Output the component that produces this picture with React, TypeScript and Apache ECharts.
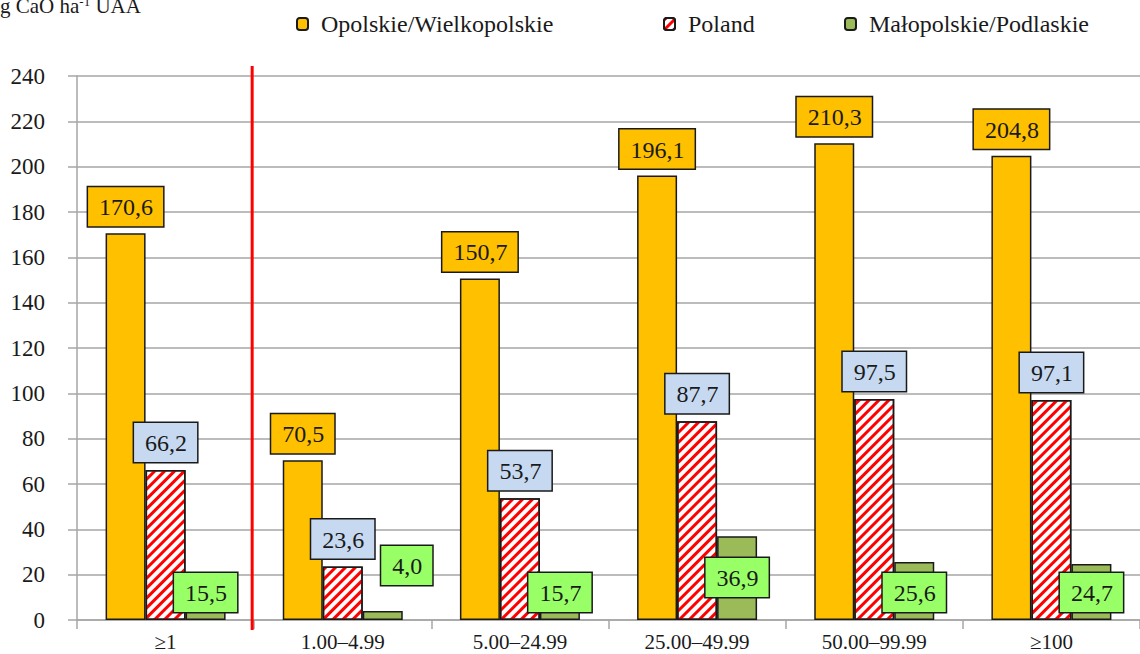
import React, { useEffect, useRef } from "react";
import * as echarts from "echarts";

const categories = ["≥1", "1.00–4.99", "5.00–24.99", "25.00–49.99", "50.00–99.99", "≥100"];
const opolskieValues = [170.6, 70.5, 150.7, 196.1, 210.3, 204.8];
const polandValues = [66.2, 23.6, 53.7, 87.7, 97.5, 97.1];
const malopolskieValues = [15.5, 4.0, 15.7, 36.9, 25.6, 24.7];
const seriesNames = ["Opolskie/Wielkopolskie", "Poland", "Małopolskie/Podlaskie"];
const yTicks = { min: 0, max: 240, interval: 20 };

const FONT = "Liberation Serif";
const DARK = "#1a1a1a";
const GRID = "#a6a6a6";

const fmt = (p: any) => Number(p.value).toFixed(1).replace(".", ",");

const baseLabel = {
  show: true,
  formatter: fmt,
  fontFamily: FONT,
  fontSize: 24,
  lineHeight: 24,
  color: DARK,
  borderColor: DARK,
  borderWidth: 1.5,
  padding: [8, 10, 7, 11],
};

export default function App() {
  const ref = useRef<HTMLDivElement>(null);
  useEffect(() => {
    if (!ref.current) return;
    const chart = echarts.init(ref.current, null, { renderer: "svg" });
    const greenData = malopolskieValues.map((v, i) => {
      if (i === 1) return { value: v, label: { distance: 35, offset: [24, 0] } };
      if (i === 3) return { value: v, label: { distance: 23 } };
      return v;
    });
    chart.setOption({
      animation: false,
      textStyle: { fontFamily: FONT },
      grid: { left: 77, right: -9, top: 76, bottom: 34, containLabel: false },
      legend: [0, 1, 2].map((k) => ({
        data: [seriesNames[k]],
        left: [291, 658, 839][k],
        top: 7,
        itemWidth: 11,
        itemHeight: 12,
        itemGap: 0,
        textStyle: { fontFamily: FONT, fontSize: 24, color: DARK, padding: [0, 0, 0, 8] },
        selectedMode: false,
      })),
      xAxis: {
        type: "category",
        data: categories,
        axisLine: { show: true, lineStyle: { color: GRID, width: 1.5 } },
        axisTick: { show: true, length: 9, lineStyle: { color: GRID, width: 1.5 } },
        axisLabel: { fontFamily: FONT, fontSize: 21, color: DARK, margin: 11 },
      },
      yAxis: {
        type: "value",
        min: yTicks.min,
        max: yTicks.max,
        interval: yTicks.interval,
        axisLine: { show: true, lineStyle: { color: GRID, width: 1.5 } },
        axisTick: { show: true, length: 9, lineStyle: { color: GRID, width: 1.5 } },
        splitLine: { show: true, lineStyle: { color: GRID, width: 1.5 } },
        axisLabel: { fontFamily: FONT, fontSize: 23, color: DARK, margin: 32 },
      },
      series: [
        {
          name: seriesNames[0],
          type: "bar",
          data: opolskieValues,
          barWidth: 40,
          barGap: "0%",
          itemStyle: { color: "#FFC000", borderColor: DARK, borderWidth: 1.5 },
          label: { ...baseLabel, position: "top", distance: 7, backgroundColor: "#FFC000" },
          z: 2,
        },
        {
          name: seriesNames[1],
          type: "bar",
          data: polandValues,
          barWidth: 40,
          barGap: "0%",
          itemStyle: {
            color: "#ffffff",
            borderColor: DARK,
            borderWidth: 1.5,
            decal: {
              symbol: "rect",
              symbolSize: 1,
              color: "#ff0000",
              dashArrayX: [1, 0],
              dashArrayY: [3, 4],
              rotation: -Math.PI / 4,
            },
          },
          label: { ...baseLabel, position: "top", distance: 8, backgroundColor: "#C6D9F1" },
          z: 2,
        },
        {
          name: seriesNames[2],
          type: "bar",
          data: greenData,
          barWidth: 40,
          barGap: "0%",
          itemStyle: { color: "#9BBB59", borderColor: DARK, borderWidth: 1.5 },
          label: { ...baseLabel, position: "insideBottom", distance: 8, backgroundColor: "#99FF66" },
          z: 2,
        },
      ],
    });
    const x0 = chart.convertToPixel({ xAxisIndex: 0 }, categories[0]) as number;
    const x1 = chart.convertToPixel({ xAxisIndex: 0 }, categories[1]) as number;
    const sep = (x0 + x1) / 2 - 2;
    chart.setOption({
      graphic: [
        {
          type: "line",
          shape: { x1: sep, y1: 66, x2: sep, y2: 630 },
          style: { stroke: "#ff0000", lineWidth: 3 },
          z: 100,
        },
        {
          type: "text",
          left: 0,
          top: -5,
          style: {
            text: "g CaO ha{sup|-1} UAA",
            fontFamily: FONT,
            fontSize: 21,
            fill: DARK,
            rich: {
              sup: { fontFamily: FONT, fontSize: 13, verticalAlign: "top", padding: [0, 0, 8, 0], fill: DARK },
            },
          },
        },
      ],
    });
    return () => chart.dispose();
  }, []);
  return <div ref={ref} style={{ width: 1140, height: 654, position: "absolute", left: 0, top: 0 }} />;
}
